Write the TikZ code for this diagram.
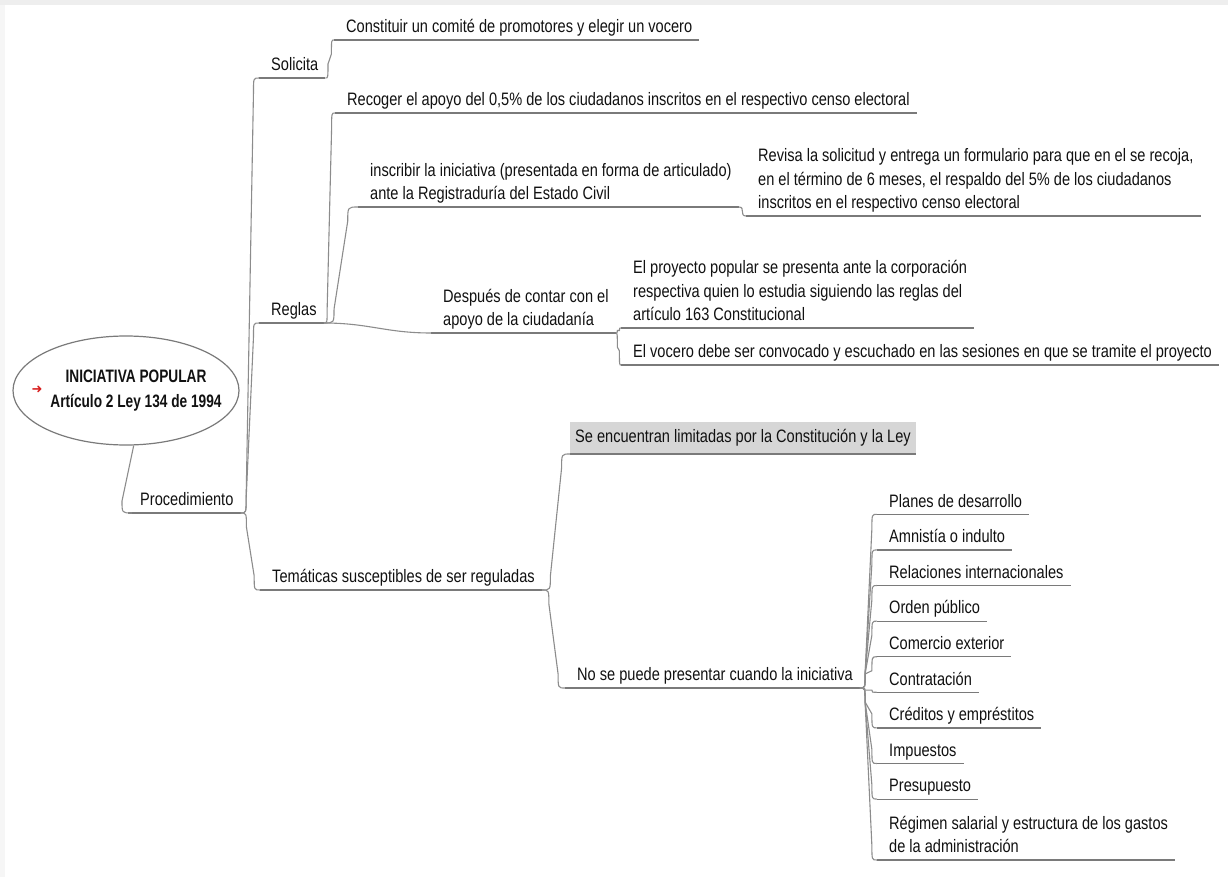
\documentclass[tikz,border=0pt]{standalone}
\usepackage{fontspec}
\setmainfont[FakeStretch=0.81]{Liberation Sans}
\newfontfamily\boldnarrow[FakeStretch=0.76]{Liberation Sans}
\newfontfamily\symfont{DejaVu Sans}
\usetikzlibrary{shapes.geometric,calc}
\definecolor{linec}{HTML}{8C8C8C}
\definecolor{ulc}{HTML}{7A7A7A}
\definecolor{boxc}{HTML}{D6D6D6}
\definecolor{txt}{HTML}{111111}
\definecolor{arrowred}{HTML}{D81E1E}
\newcommand\zz{\rule[-4pt]{0pt}{4pt}}
\newcommand\conn[2]{%
  \draw[conn] let \p1=(#1), \p2=(#2),
    \n1={\x1+0.3*(\x2-\x1)},
    \n3={\x2-0.3*(\x2-\x1)},
    \n2={min(14,0.5*abs(\y2-\y1))*sign(\y2-\y1)}
  in (\p1) .. controls ({\n1*1pt},\y1) .. ({\n1*1pt},{\y1+\n2*1pt})
     -- ({\n3*1pt},{\y2-\n2*1pt}) .. controls ({\n3*1pt},\y2) .. (\p2);}
\begin{document}
\begin{tikzpicture}[x=1pt,y=-1pt,
  every node/.style={font=\fontsize{18}{23.5}\selectfont, text=txt},
  ul/.style={draw=ulc, line width=1.2pt},
  conn/.style={draw=linec, line width=1.1pt},
  topic/.style={anchor=south west, inner xsep=12pt, inner ysep=3pt, align=left,
     append after command={(\tikzlastnode.south west) edge[ul] ([xshift=-5pt]\tikzlastnode.south east)}},
]
\useasboundingbox (0,0) rectangle (1228,877);
\fill[white] (0,0) rectangle (1228,877);
\fill[gray!13] (0,0) rectangle (1228,5);
\fill[gray!7] (0,5) rectangle (5,877);

% root
\node[draw=ulc, line width=1.2pt, ellipse, fill=white, minimum width=226pt, minimum height=109pt, inner sep=0pt] (root) at (126,390.5) {};
\node[font=\boldnarrow\bfseries\fontsize{18}{25}\selectfont, align=center] (rootlbl) at (136,391) {INICIATIVA POPULAR\\Artículo 2 Ley 134 de 1994};
\node[text=arrowred, font=\symfont\fontsize{13}{13}\selectfont, inner sep=0pt] (rarrow) at (37,390) {➜};

% level 1
\node[topic] (proc) at (128,513) {Procedimiento\zz};
% level 2
\node[topic] (sol) at (259,78) {Solicita\zz};
\node[topic] (reg) at (259,323) {Reglas\zz};
\node[topic] (tem) at (260,590) {Temáticas susceptibles de ser reguladas\zz};
% level 3
\node[topic] (const) at (334,40) {Constituir un comité de promotores y elegir un vocero\zz};
\node[topic] (recog) at (335,113) {Recoger el apoyo del 0,5\% de los ciudadanos inscritos en el respectivo censo electoral\zz};
\node[topic] (inscr) at (358,207) {inscribir la iniciativa (presentada en forma de articulado)\\ante la Registraduría del Estado Civil\zz};
\node[topic] (revisa) at (746,216) {Revisa la solicitud y entrega un formulario para que en el se recoja,\\en el término de 6 meses, el respaldo del 5\% de los ciudadanos\\inscritos en el respectivo censo electoral\zz};
\node[topic] (despues) at (431,333) {Después de contar con el\\apoyo de la ciudadanía\zz};
\node[topic] (proy) at (621,328) {El proyecto popular se presenta ante la corporación\\respectiva quien lo estudia siguiendo las reglas del\\artículo 163 Constitucional\zz};
\node[topic] (vocero) at (621,365) {El vocero debe ser convocado y escuchado en las sesiones en que se tramite el proyecto\zz};
\node[anchor=south west, fill=boxc, minimum height=32pt, inner xsep=5pt, inner ysep=0pt,
  append after command={(\tikzlastnode.south west) edge[ul] (\tikzlastnode.south east)}] (se) at (570,454) {Se encuentran limitadas por la Constitución y la Ley};
\node[topic] (nose) at (565,688) {No se puede presentar cuando la iniciativa\zz};
% leaves
\node[topic] (l1) at (877,514.3) {Planes de desarrollo\zz};
\node[topic] (l2) at (877,549.9) {Amnistía o indulto\zz};
\node[topic] (l3) at (877,585.5) {Relaciones internacionales\zz};
\node[topic] (l4) at (877,621.1) {Orden público\zz};
\node[topic] (l5) at (877,656.7) {Comercio exterior\zz};
\node[topic] (l6) at (877,692.3) {Contratación\zz};
\node[topic] (l7) at (877,727.9) {Créditos y empréstitos\zz};
\node[topic] (l8) at (877,763.5) {Impuestos\zz};
\node[topic] (l9) at (877,799.1) {Presupuesto\zz};
\node[topic] (l10) at (877,860) {Régimen salarial y estructura de los gastos\\de la administración\zz};

% connectors
\draw[conn] (root.-82) -- ([xshift=-6pt,yshift=12pt]proc.south west) .. controls ([xshift=-6pt]proc.south west) .. ([xshift=4pt]proc.south west);
\conn{[xshift=-5pt]proc.south east}{sol.south west}
\conn{[xshift=-5pt]proc.south east}{reg.south west}
\conn{[xshift=-5pt]proc.south east}{tem.south west}
\conn{[xshift=-5pt]sol.south east}{const.south west}
\conn{[xshift=-5pt]reg.south east}{recog.south west}
\conn{[xshift=-5pt]reg.south east}{inscr.south west}
\draw[conn] ([xshift=-5pt]reg.south east) .. controls +(45,0) and +(-45,0) .. (despues.south west);
\draw[conn] ([xshift=-5pt]inscr.south east) .. controls +(7,0) and +(-7,0) .. (revisa.south west);
\conn{[xshift=-5pt]despues.south east}{proy.south west}
\conn{[xshift=-5pt]despues.south east}{vocero.south west}
\conn{[xshift=-5pt]tem.south east}{se.south west}
\conn{[xshift=-5pt]tem.south east}{nose.south west}
\foreach \i in {1,...,10}{\conn{[xshift=-5pt]nose.south east}{l\i.south west}}
\end{tikzpicture}
\end{document}
